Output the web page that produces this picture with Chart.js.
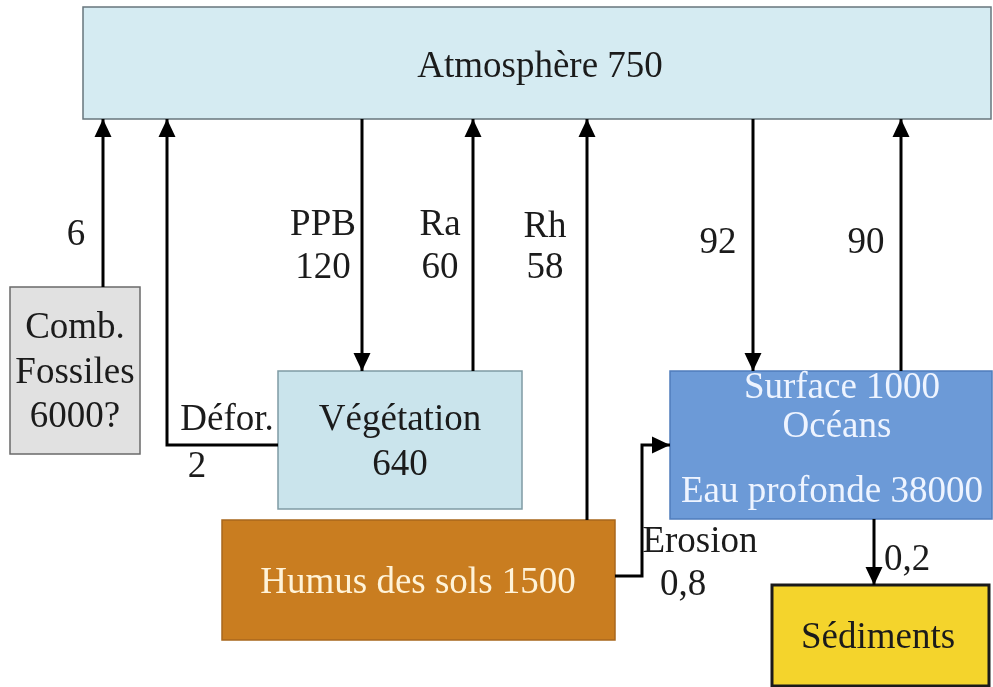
<!DOCTYPE html>
<html>
<head>
<meta charset="utf-8">
<script src="https://cdn.jsdelivr.net/npm/chart.js@4/dist/chart.umd.min.js"></script>
<style>
  html, body { margin: 0; padding: 0; background: #ffffff; }
  #wrap { width: 993px; height: 687px; }
</style>
</head>
<body>
<div id="wrap"><canvas id="cycle" width="993" height="687"></canvas></div>
<script>
// Carbon stocks (text of each box)
const stockNames = ["Atmosphère 750", "Comb.|Fossiles|6000?", "Végétation|640", "Humus des sols 1500", "Surface 1000|Océans|Eau profonde 38000", "Sédiments"];

// Fluxes: name + value, one per arrow
const fluxNames = ["", "Défor.", "PPB", "Ra", "Rh", "", "", "Erosion", ""];
const fluxValues = ["6", "2", "120", "60", "58", "92", "90", "0,8", "0,2"];

// Layout in diagram units (one unit = one pixel of the 993x687 picture)
const boxRects = [
  [83, 7, 991, 119],
  [10, 287, 140, 454],
  [278, 371, 522, 509],
  [222, 520, 615, 640],
  [670, 371, 992, 519],
  [772, 585, 989, 686]
];
const boxFills = ["#d5ebf2", "#e1e1e1", "#cae4ec", "#c97d20", "#6c9ad7", "#f4d42c"];
const boxBorders = ["#67767c", "#6a6a6a", "#7f9ba4", "#a8671c", "#4f7cbc", "#1a1a1a"];
const boxBorderW = [1.5, 1.5, 1.5, 1.5, 1.5, 3];
const boxTextColors = ["#1b1b1b", "#1b1b1b", "#1b1b1b", "#fff3d8", "#eef4ff", "#1b1b1b"];
const boxTextX = [[540], [75, 75, 75], [400, 400], [418], [842, 837, 832], [878]];
const boxTextY = [[67], [328, 373, 417], [420, 465], [583], [388, 427, 492], [638]];

const arrowPaths = [
  [[103, 287], [103, 119]],
  [[278, 445], [167, 445], [167, 119]],
  [[362, 119], [362, 371]],
  [[473, 371], [473, 119]],
  [[587, 520], [587, 119]],
  [[753, 119], [753, 371]],
  [[901, 371], [901, 119]],
  [[615, 576], [642, 576], [642, 445], [670, 445]],
  [[874, 519], [874, 585]]
];
const nameLabelPos = [null, [227, 420], [323, 225], [440, 225], [545, 227], null, null, [700, 542], null];
const valueLabelPos = [[76, 235], [197, 467], [323, 268], [440, 268], [545, 268], [718, 243], [866, 243], [683, 585], [907, 560]];

const FONT = "37px 'Liberation Serif', 'Times New Roman', serif";

function px(chart, x, y) {
  return [chart.scales.x.getPixelForValue(x), chart.scales.y.getPixelForValue(y)];
}

// boxes and texts, drawn below the arrows
const boxPlugin = {
  id: "boxes",
  beforeDatasetsDraw(chart) {
    const ctx = chart.ctx;
    ctx.save();
    boxRects.forEach((r, i) => {
      const [x0, y0] = px(chart, r[0], r[1]);
      const [x1, y1] = px(chart, r[2], r[3]);
      ctx.fillStyle = boxFills[i];
      ctx.fillRect(x0, y0, x1 - x0, y1 - y0);
      ctx.lineWidth = boxBorderW[i];
      ctx.strokeStyle = boxBorders[i];
      ctx.strokeRect(x0, y0, x1 - x0, y1 - y0);

      ctx.font = FONT;
      ctx.fillStyle = boxTextColors[i];
      ctx.textAlign = "center";
      ctx.textBaseline = "middle";
      stockNames[i].split("|").forEach((line, j) => {
        const [tx, ty] = px(chart, boxTextX[i][j], boxTextY[i][j]);
        ctx.fillText(line, tx, ty);
      });
    });

    ctx.fillStyle = "#1b1b1b";
    fluxNames.forEach((name, i) => {
      if (name && nameLabelPos[i]) {
        const [tx, ty] = px(chart, nameLabelPos[i][0], nameLabelPos[i][1]);
        ctx.fillText(name, tx, ty);
      }
      const [vx, vy] = px(chart, valueLabelPos[i][0], valueLabelPos[i][1]);
      ctx.fillText(fluxValues[i], vx, vy);
    });
    ctx.restore();
  },
  // arrowheads at the end of each flux line
  afterDatasetsDraw(chart) {
    const ctx = chart.ctx;
    ctx.save();
    ctx.fillStyle = "#000000";
    chart.data.datasets.forEach((ds, i) => {
      const meta = chart.getDatasetMeta(i);
      const pts = meta.data;
      const a = pts[pts.length - 2], b = pts[pts.length - 1];
      const ang = Math.atan2(b.y - a.y, b.x - a.x);
      const len = 18, half = 8.5;
      ctx.beginPath();
      ctx.moveTo(b.x, b.y);
      ctx.lineTo(b.x - len * Math.cos(ang) - half * Math.sin(ang), b.y - len * Math.sin(ang) + half * Math.cos(ang));
      ctx.lineTo(b.x - len * Math.cos(ang) + half * Math.sin(ang), b.y - len * Math.sin(ang) - half * Math.cos(ang));
      ctx.closePath();
      ctx.fill();
    });
    ctx.restore();
  }
};

const datasets = arrowPaths.map((path, i) => ({
  label: (fluxNames[i] ? fluxNames[i] + " " : "") + fluxValues[i],
  data: path.map((p) => ({ x: p[0], y: p[1] })),
  showLine: true,
  borderColor: "#000000",
  borderWidth: 3,
  pointRadius: 0,
  tension: 0,
  fill: false,
  borderCapStyle: "butt",
  borderJoinStyle: "miter"
}));

new Chart(document.getElementById("cycle").getContext("2d"), {
  type: "scatter",
  data: { datasets },
  options: {
    responsive: false,
    devicePixelRatio: 1,
    animation: false,
    layout: { padding: 0 },
    plugins: { legend: { display: false }, tooltip: { enabled: false } },
    scales: {
      x: { type: "linear", min: 0, max: 993, display: false },
      y: { type: "linear", min: 0, max: 687, reverse: true, display: false }
    }
  },
  plugins: [boxPlugin]
});
</script>
</body>
</html>
